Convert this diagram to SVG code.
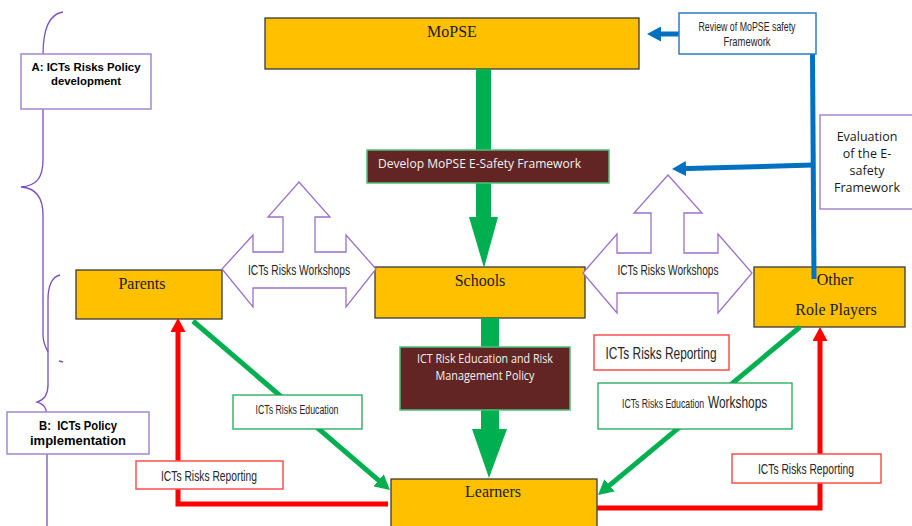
<svg xmlns="http://www.w3.org/2000/svg" width="912" height="526" viewBox="0 0 912 526">
<style>
.bg{fill:#FFFFFF}
.node{fill:#FFC000;stroke:#3a3a3a;stroke-width:1.3}
.serif{font-family:"Liberation Serif","DejaVu Serif",serif;font-size:16px;fill:#1a1a1a;text-anchor:middle}
.maroon{fill:#632523;stroke:#4CC17A;stroke-width:1.5}
.wtxt{font-family:"Open Sans","Liberation Sans",sans-serif;font-size:12px;fill:#F2F2F2}
.narrow{font-family:"Liberation Sans Narrow","Liberation Sans",sans-serif;fill:#262626;text-anchor:middle}
.narrow-start{font-family:"Liberation Sans",sans-serif;fill:#262626;text-anchor:start}
.lbl-red{fill:#FFFFFF;stroke:#FF4D4D;stroke-width:1.5}
.lbl-green{fill:#FFFFFF;stroke:#1DAA55;stroke-width:1.3}
.lbl-blue{fill:#FFFFFF;stroke:#2E7BC4;stroke-width:1.5}
.lbl-purple{fill:#FFFFFF;stroke:#A585CF;stroke-width:1.5}
.bold{font-family:"Liberation Sans",Arial,sans-serif;font-weight:bold;fill:#000;text-anchor:middle}
.cal{font-family:"Open Sans","Liberation Sans",sans-serif;font-size:12.5px;fill:#1a1a1a;text-anchor:middle}
.ws{fill:#FFFFFF;stroke:#9A70CC;stroke-width:1.3}
.brace{fill:none;stroke:#7B4FC0;stroke-width:1.3}
.big-green{fill:#00B050}
.c-red{fill:none;stroke:#FF0000;stroke-width:5}
.c-green{fill:none;stroke:#00B050;stroke-width:5}
.c-blue{fill:none;stroke:#0070C0;stroke-width:5}
</style>
<defs>
<marker id="ah-red" markerUnits="userSpaceOnUse" markerWidth="14" markerHeight="15" viewBox="0 0 14 15" refX="8" refY="7.5" orient="auto"><path d="M0,0 L14,7.5 L0,15 Z" fill="#FF0000"/></marker>
<marker id="ah-green" markerUnits="userSpaceOnUse" markerWidth="15" markerHeight="16" viewBox="0 0 15 16" refX="9" refY="8" orient="auto"><path d="M0,0 L15,8 L0,16 Z" fill="#00B050"/></marker>
<marker id="ah-blue" markerUnits="userSpaceOnUse" markerWidth="14" markerHeight="15" viewBox="0 0 14 15" refX="8" refY="7.5" orient="auto"><path d="M0,0 L14,7.5 L0,15 Z" fill="#0070C0"/></marker>
</defs>
<rect class="bg" x="0" y="0" width="912" height="526"/>

<!-- braces -->
<g id="braces">
<path class="brace" d="M63,12 C49,14 43,30 43,55 L43,160 C43,178 36,186 21,187 C36,188 43,198 43,215 L43,335 C43,343 46,348 48,352"/>
<path class="brace" d="M60,275 C52,277 48,286 48,300 L48,385 C48,394 44,400 37,402 C44,404 47,408 47,418 L47,526"/>
<path class="brace" d="M59,361 L63,362"/>
</g>

<!-- main nodes -->
<g id="mopse"><rect class="node" x="265" y="18" width="374" height="51"/><text class="serif" x="452" y="37">MoPSE</text></g>
<g id="parents"><rect class="node" x="76" y="270" width="146" height="49"/><text class="serif" x="142" y="289">Parents</text></g>
<g id="schools"><rect class="node" x="375" y="267" width="210" height="51"/><text class="serif" x="480" y="286">Schools</text></g>
<g id="other"><rect class="node" x="754" y="267" width="151" height="60"/><text class="serif" x="835" y="285">Other</text><text class="serif" x="836" y="315">Role Players</text></g>
<g id="learners"><rect class="node" x="391" y="479" width="206" height="52"/><text class="serif" x="493" y="497">Learners</text></g>

<!-- connectors -->
<g id="connectors">
<path class="big-green" d="M476,69 L491,69 L491,217 L498,217 L484,268 L469,217 L476,217 Z"/>
<path class="big-green" d="M481,318 L499,318 L499,429 L507,429 L489,478 L472,429 L481,429 Z"/>
<path class="c-green" d="M193,321 L385.4,486.1" marker-end="url(#ah-green)"/>
<path class="c-green" d="M800,327 L602.6,491.2" marker-end="url(#ah-green)"/>
<path class="c-red" d="M388,504 L178,504 L178,324" marker-end="url(#ah-red)"/>
<path class="c-red" d="M597,508 L820,508 L820,333" marker-end="url(#ah-red)"/>
<path class="c-blue" d="M679,34 L653,34" marker-end="url(#ah-blue)"/>
<path class="c-blue" d="M812.5,54 L814,279"/>
<path class="c-blue" d="M813,165 L678,168.8" marker-end="url(#ah-blue)"/>
</g>

<!-- process boxes -->
<g id="develop"><rect class="maroon" x="367" y="150" width="242" height="33"/><text class="wtxt" x="378" y="168" font-size="13" textLength="203" lengthAdjust="spacingAndGlyphs">Develop MoPSE E-Safety Framework</text></g>
<g id="ict-policy"><rect class="maroon" x="400" y="347" width="170" height="63"/>
<text class="wtxt" x="485" y="363" text-anchor="middle" textLength="136" lengthAdjust="spacingAndGlyphs">ICT Risk Education and Risk</text>
<text class="wtxt" x="485" y="380" text-anchor="middle" textLength="99" lengthAdjust="spacingAndGlyphs">Management Policy</text></g>

<!-- workshops -->
<g id="workshops-left">
<polygon class="ws" points="299,182 330,217 315,217 315,252 346,252 346,235 376,269 346,307 346,288 253,288 253,307 222,269 253,235 253,252 283,252 283,217 268,217"/>
<text class="narrow" x="299" y="275" font-size="15" textLength="102" lengthAdjust="spacingAndGlyphs">ICTs Risks Workshops</text>
</g>
<g id="workshops-right">
<polygon class="ws" points="668,175 702,213 684,213 684,253 718,253 718,234 752,273 718,313 718,293 617,293 617,313 583,273 617,234 617,253 651,253 651,213 634,213"/>
<text class="narrow" x="668" y="275" font-size="15" textLength="101" lengthAdjust="spacingAndGlyphs">ICTs Risks Workshops</text>
</g>

<!-- labels -->
<g id="review"><rect class="lbl-blue" x="679" y="13" width="137" height="41"/>
<text class="narrow" x="747" y="31" font-size="12.5" textLength="97" lengthAdjust="spacingAndGlyphs">Review of MoPSE safety</text>
<text class="narrow" x="747" y="46" font-size="12.5" textLength="47" lengthAdjust="spacingAndGlyphs">Framework</text></g>
<g id="evaluation"><rect class="lbl-purple" x="820" y="115" width="96" height="94"/>
<text class="cal" x="867" y="141">Evaluation</text>
<text class="cal" x="867" y="158">of the E-</text>
<text class="cal" x="867" y="175">safety</text>
<text class="cal" x="867" y="192">Framework</text></g>
<g id="label-a"><rect class="lbl-purple" x="21" y="54" width="130" height="55"/>
<text class="bold" x="86" y="71" font-size="11" textLength="109" lengthAdjust="spacingAndGlyphs">A: ICTs Risks Policy</text>
<text class="bold" x="86" y="85" font-size="11" textLength="70" lengthAdjust="spacingAndGlyphs">development</text></g>
<g id="label-b"><rect class="lbl-purple" x="7" y="412" width="142" height="42"/>
<text class="bold" x="78" y="430" font-size="12.5" xml:space="preserve" textLength="78" lengthAdjust="spacingAndGlyphs">B:  ICTs Policy</text>
<text class="bold" x="78" y="445" font-size="12.5" textLength="96" lengthAdjust="spacingAndGlyphs">implementation</text></g>
<g id="edu-left"><rect class="lbl-green" x="233" y="395" width="129" height="34"/>
<text class="narrow" x="297" y="414" font-size="13" textLength="83" lengthAdjust="spacingAndGlyphs">ICTs Risks Education</text></g>
<g id="edu-right"><rect class="lbl-green" x="598" y="383" width="194" height="46"/>
<text class="narrow-start" transform="translate(622,408) scale(0.67,1)" font-size="13">ICTs Risks Education</text>
<text class="narrow-start" transform="translate(708,408) scale(0.7,1)" font-size="17">Workshops</text></g>
<g id="report-left"><rect class="lbl-red" x="136" y="461" width="147" height="28"/>
<text class="narrow" x="209" y="481" font-size="15" textLength="96" lengthAdjust="spacingAndGlyphs">ICTs Risks Reporting</text></g>
<g id="report-right"><rect class="lbl-red" x="732" y="454" width="149" height="29"/>
<text class="narrow" x="806" y="474" font-size="15" textLength="96" lengthAdjust="spacingAndGlyphs">ICTs Risks Reporting</text></g>
<g id="report-mid"><rect class="lbl-red" x="594" y="335" width="135" height="35"/>
<text class="narrow" x="661" y="359" font-size="17" textLength="111" lengthAdjust="spacingAndGlyphs">ICTs Risks Reporting</text></g>
</svg>
